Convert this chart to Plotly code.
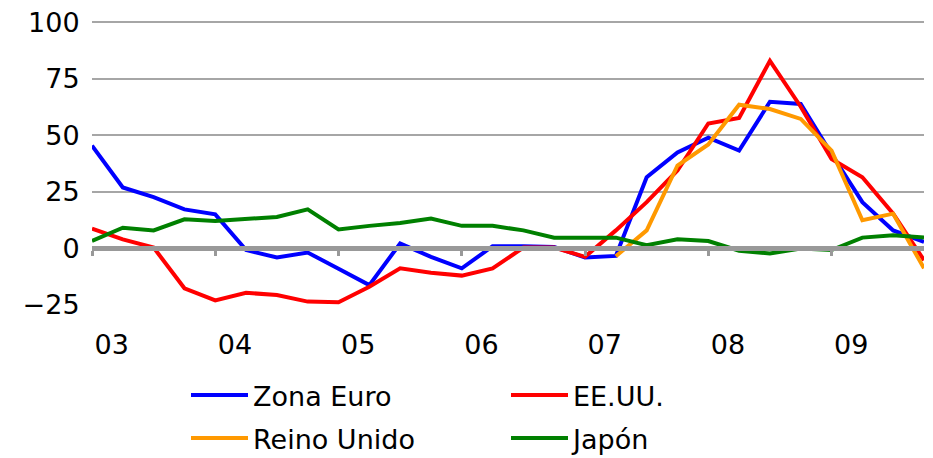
import plotly.graph_objects as go

# quarterly observations, 2003 Q1 .. 2009 Q4
years = ["03", "04", "05", "06", "07", "08", "09"]
quarters = [2003 + i / 4 for i in range(28)]

zona_euro = [45.5, 27, 22.7, 17.3, 15.1, -0.7, -4, -1.8, -9, -16.2, 2.2, -3.7, -8.8, 1,
             1, 0.7, -4, -3.3, 31.5, 42.5, 49, 43.3, 64.9, 63.9, 41.8, 20.5, 8, 2.9]
ee_uu = [8.8, 4, 0.4, -17.6, -23, -19.6, -20.6, -23.5, -23.8, -16.9, -8.8, -10.7, -12, -8.8,
         0.4, 0.4, -3.7, 8, 20.5, 34.5, 55.3, 57.7, 83, 62.7, 39.6, 31.5, 15.4, -5.2]
reino_unido = [None] * 17 + [-3.4, 8, 36.7, 46, 63.6, 61.7, 57.3, 43.3, 12.5, 15.4, -8.8]
japon = [3.3, 9.2, 8, 12.9, 12.2, 13.2, 13.9, 17.3, 8.4, 10, 11.3, 13.2, 10, 10,
         8, 4.8, 4.8, 4.8, 1.5, 4.1, 3.3, -1, -2.2, 0, -0.7, 4.8, 5.9, 4.8]

series = [
    ("Zona Euro", zona_euro, "#0000ff", "legend"),
    ("EE.UU.", ee_uu, "#ff0000", "legend"),
    ("Reino Unido", reino_unido, "#ff9900", "legend2"),
    ("Japón", japon, "#008000", "legend2"),
]

FONT = "DejaVu Sans"
W, H = 933, 458
L, R, T, B = 92, 9, 19, 153

fig = go.Figure()
for name, vals, color, leg in series:
    fig.add_trace(
        go.Scatter(x=quarters, y=vals, name=name, mode="lines", legend=leg,
                   line=dict(color=color, width=4), connectgaps=False)
    )

# invisible helper trace so the second x axis (ticks on the zero line) is drawn
fig.add_trace(go.Scatter(x=quarters, y=[None] * len(quarters), xaxis="x2",
                         showlegend=False, hoverinfo="skip"))

year_starts = [2003 + k for k in range(len(years))]
leg_x = (186 - L) / (W - L - R)
y_range = [-25, 101.5]

legend_style = dict(
    orientation="h",
    x=leg_x, xanchor="left",
    yref="container", yanchor="top",
    entrywidth=248, entrywidthmode="pixels",
    itemwidth=57,
    font=dict(family=FONT, size=27),
    bgcolor="rgba(0,0,0,0)",
)

fig.update_layout(
    width=W,
    height=H,
    margin=dict(l=L, r=R, t=T, b=B),
    plot_bgcolor="white",
    paper_bgcolor="white",
    font=dict(family=FONT, size=27, color="black"),
    showlegend=True,
    legend=dict(legend_style, y=1 - 371 / H),
    legend2=dict(legend_style, y=1 - 414 / H),
    xaxis=dict(
        range=[2003, 2009.75],
        tickvals=[y + 0.16 for y in year_starts],
        ticktext=years,
        showgrid=False,
        zeroline=False,
        showline=False,
        automargin=False,
        ticks="outside", ticklen=16, tickcolor="rgba(0,0,0,0)",
        tickfont=dict(size=27),
    ),
    xaxis2=dict(
        overlaying="x",
        anchor="free",
        position=(0 - y_range[0]) / (y_range[1] - y_range[0]),
        range=[2003, 2009.75],
        tickvals=year_starts,
        showticklabels=False,
        showgrid=False,
        zeroline=False,
        automargin=False,
        showline=True, linecolor="#999999", linewidth=5,
        ticks="outside", ticklen=5, tickwidth=3, tickcolor="#999999",
    ),
    yaxis=dict(
        range=y_range,
        tickvals=[-25, 0, 25, 50, 75, 100],
        ticktext=["\u221225", "0", "25", "50", "75", "100"],
        showgrid=True, gridcolor="#a6a6a6", gridwidth=1.5,
        zeroline=False,
        showline=False,
        automargin=False,
        ticks="outside", ticklen=6, tickcolor="rgba(0,0,0,0)",
        tickfont=dict(size=27),
    ),
)

# drop the default 8px body margin so the figure fills the window
fig.write_html(
    "out.html",
    config={"displayModeBar": False},
    post_script="document.body.style.margin = '0';",
)
